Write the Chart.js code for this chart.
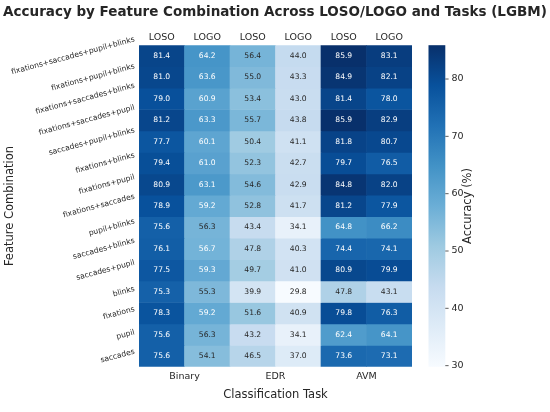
<!DOCTYPE html>
<html>
<head>
<meta charset="utf-8">
<script src="https://cdn.jsdelivr.net/npm/chart.js@4.4.0/dist/chart.umd.min.js"></script>
<style>
html,body{margin:0;padding:0;background:#fff;}
canvas{display:block;}
</style>
</head>
<body>
<canvas id="c" width="550" height="412"></canvas>
<script>
// ---- data ----
const featureCombos = ['fixations+saccades+pupil+blinks','fixations+pupil+blinks','fixations+saccades+blinks','fixations+saccades+pupil','saccades+pupil+blinks','fixations+blinks','fixations+pupil','fixations+saccades','pupil+blinks','saccades+blinks','saccades+pupil','blinks','fixations','pupil','saccades'];
const columnLabels = ['LOSO','LOGO','LOSO','LOGO','LOSO','LOGO'];
const tasks = ['Binary','EDR','AVM'];
const binaryLOSO = [81.4,81.0,79.0,81.2,77.7,79.4,80.9,78.9,75.6,76.1,77.5,75.3,78.3,75.6,75.6];
const binaryLOGO = [64.2,63.6,60.9,63.3,60.1,61.0,63.1,59.2,56.3,56.7,59.3,55.3,59.2,56.3,54.1];
const edrLOSO    = [56.4,55.0,53.4,55.7,50.4,52.3,54.6,52.8,43.4,47.8,49.7,39.9,51.6,43.2,46.5];
const edrLOGO    = [44.0,43.3,43.0,43.8,41.1,42.7,42.9,41.7,34.1,40.3,41.0,29.8,40.9,34.1,37.0];
const avmLOSO    = [85.9,84.9,81.4,85.9,81.8,79.7,84.8,81.2,64.8,74.4,80.9,47.8,79.8,62.4,73.6];
const avmLOGO    = [83.1,82.1,78.0,82.9,80.7,76.5,82.0,77.9,66.2,74.1,79.9,43.1,76.3,64.1,73.1];
const colorbarTicks = [30,40,50,60,70,80];

const columns = [binaryLOSO,binaryLOGO,edrLOSO,edrLOGO,avmLOSO,avmLOGO];
const allVals = columns.flat();
const vmin = Math.min(...allVals), vmax = Math.max(...allVals);

// matplotlib Blues
const blues = [[247,251,255],[222,235,247],[198,219,239],[158,202,225],[107,174,214],[66,146,198],[33,113,181],[8,81,156],[8,48,107]];
function cmap(t){
  t = Math.max(0,Math.min(1,t));
  const p = t*(blues.length-1), i = Math.min(Math.floor(p), blues.length-2), f = p-i;
  return blues[i].map((c,k)=>c+(blues[i+1][k]-c)*f);
}
function rgbStr(c){return 'rgb('+c.map(v=>Math.round(v)).join(',')+')';}
function lum(c){
  const l = c.map(v=>{v/=255; return v<=0.03928? v/12.92 : Math.pow((v+0.055)/1.055,2.4);});
  return 0.2126*l[0]+0.7152*l[1]+0.0722*l[2];
}
const norm = v => (v-vmin)/(vmax-vmin);

const FONT = '"DejaVu Sans", sans-serif';

const datasets = featureCombos.map((name,r)=>({
  label:name,
  data: columns.map(()=>[r, r+1]),
  values: columns.map(col=>col[r]),
  backgroundColor: columns.map(col=>rgbStr(cmap(norm(col[r])))),
  borderWidth:0
}));

const HM_LEFT=139, HM_RIGHT=412, HM_TOP=39, HM_BOTTOM=375;

const annotPlugin = {
  id:'annot',
  afterDatasetsDraw(chart){
    const ctx = chart.ctx;
    ctx.save();
    ctx.font = '7.6px '+FONT;
    ctx.textAlign='center'; ctx.textBaseline='middle';
    chart.data.datasets.forEach((ds,r)=>{
      const meta = chart.getDatasetMeta(r);
      meta.data.forEach((el,i)=>{
        const {x,y,base} = el.getProps(['x','y','base'],true);
        const v = ds.values[i];
        ctx.fillStyle = lum(cmap(norm(v)))>0.408 ? '#262626' : '#ffffff';
        ctx.fillText(v.toFixed(1), x, (y+base)/2);
      });
    });
    ctx.restore();
  },
  afterDraw(chart){
    const ctx = chart.ctx;
    const cb = chart.scales.cb, ys = chart.scales.y;
    ctx.save();
    // colorbar
    const y0 = cb.getPixelForValue(vmin), y1 = cb.getPixelForValue(vmax);
    const g = ctx.createLinearGradient(0,y0,0,y1);
    blues.forEach((c,i)=>g.addColorStop(i/(blues.length-1), rgbStr(c)));
    ctx.fillStyle=g;
    ctx.fillRect(428.5, y1, 16.8, y0-y1);
    ctx.strokeStyle='#333'; ctx.lineWidth=0.8;
    colorbarTicks.forEach(t=>{
      const yy = cb.getPixelForValue(t);
      ctx.beginPath(); ctx.moveTo(445.3,yy); ctx.lineTo(448.6,yy); ctx.stroke();
    });
    // colorbar label
    ctx.fillStyle='#262626';
    ctx.font='11.5px '+FONT;
    ctx.textAlign='center'; ctx.textBaseline='middle';
    ctx.translate(468,(y0+y1)/2); ctx.rotate(-Math.PI/2);
    ctx.fillText('Accuracy (%)',0,0);
    ctx.restore();
    // y tick labels (rotated 15deg)
    ctx.save();
    ctx.font='7.6px '+FONT;
    ctx.fillStyle='#262626';
    ctx.textAlign='center'; ctx.textBaseline='middle';
    const a = 15*Math.PI/180;
    featureCombos.forEach((name,r)=>{
      const w = ctx.measureText(name).width, h = 7.6*1.16;
      const bw = w*Math.cos(a)+h*Math.sin(a);
      const cx = 135.7 - bw/2, cy = ys.getPixelForValue(r+0.5);
      ctx.save(); ctx.translate(cx,cy); ctx.rotate(-a); ctx.fillText(name,0,0); ctx.restore();
    });
    ctx.restore();
    // title
    ctx.save();
    const title='Accuracy by Feature Combination Across LOSO/LOGO and Tasks (LGBM)';
    ctx.font='bold 15px '+FONT;
    const tw = ctx.measureText(title).width;
    const fs = 15*544/tw;
    ctx.font='bold '+fs.toFixed(2)+'px '+FONT;
    ctx.fillStyle='#262626'; ctx.textAlign='center'; ctx.textBaseline='alphabetic';
    ctx.fillText(title,275,15.5);
    ctx.restore();
  }
};

new Chart(document.getElementById('c'),{
  type:'bar',
  data:{labels:columnLabels, datasets},
  options:{
    responsive:false, animation:false, devicePixelRatio:1,
    layout:{padding:0},
    plugins:{legend:{display:false}, tooltip:{enabled:false}, title:{display:false}},
    datasets:{bar:{grouped:false, barPercentage:1, categoryPercentage:1}},
    scales:{
      x:{type:'category', position:'top', offset:true,
         grid:{display:false, drawTicks:false}, border:{display:false},
         ticks:{color:'#262626', font:{family:FONT,size:9.5}, padding:2, maxRotation:0},
         afterFit(s){s.height=HM_TOP;}},
      x2:{type:'category', labels:tasks, position:'bottom', offset:true,
         grid:{display:false, drawTicks:false}, border:{display:false},
         ticks:{color:'#262626', font:{family:FONT,size:9.5}, padding:4, maxRotation:0},
         title:{display:true, text:'Classification Task', color:'#262626', font:{family:FONT,size:11.5}, padding:{top:0,bottom:2}},
         afterFit(s){s.height=412-HM_BOTTOM;}},
      y:{type:'linear', position:'left', min:0, max:15, reverse:true,
         grid:{display:false, drawTicks:false}, border:{display:false}, ticks:{display:false},
         title:{display:true, text:'Feature Combination', color:'#262626', font:{family:FONT,size:11.5}, padding:{top:3,bottom:0}},
         afterFit(s){s.width=HM_LEFT;}},
      cb:{type:'linear', position:'right', min:vmin, max:vmax,
         grid:{display:false, drawTicks:false}, border:{display:false},
         afterBuildTicks(s){s.ticks = colorbarTicks.map(v=>({value:v}));},
         ticks:{color:'#262626', font:{family:FONT,size:9.5}, padding:39.5},
         afterFit(s){s.width=550-HM_RIGHT;}}
    }
  },
  plugins:[annotPlugin]
});
</script>
</body>
</html>
